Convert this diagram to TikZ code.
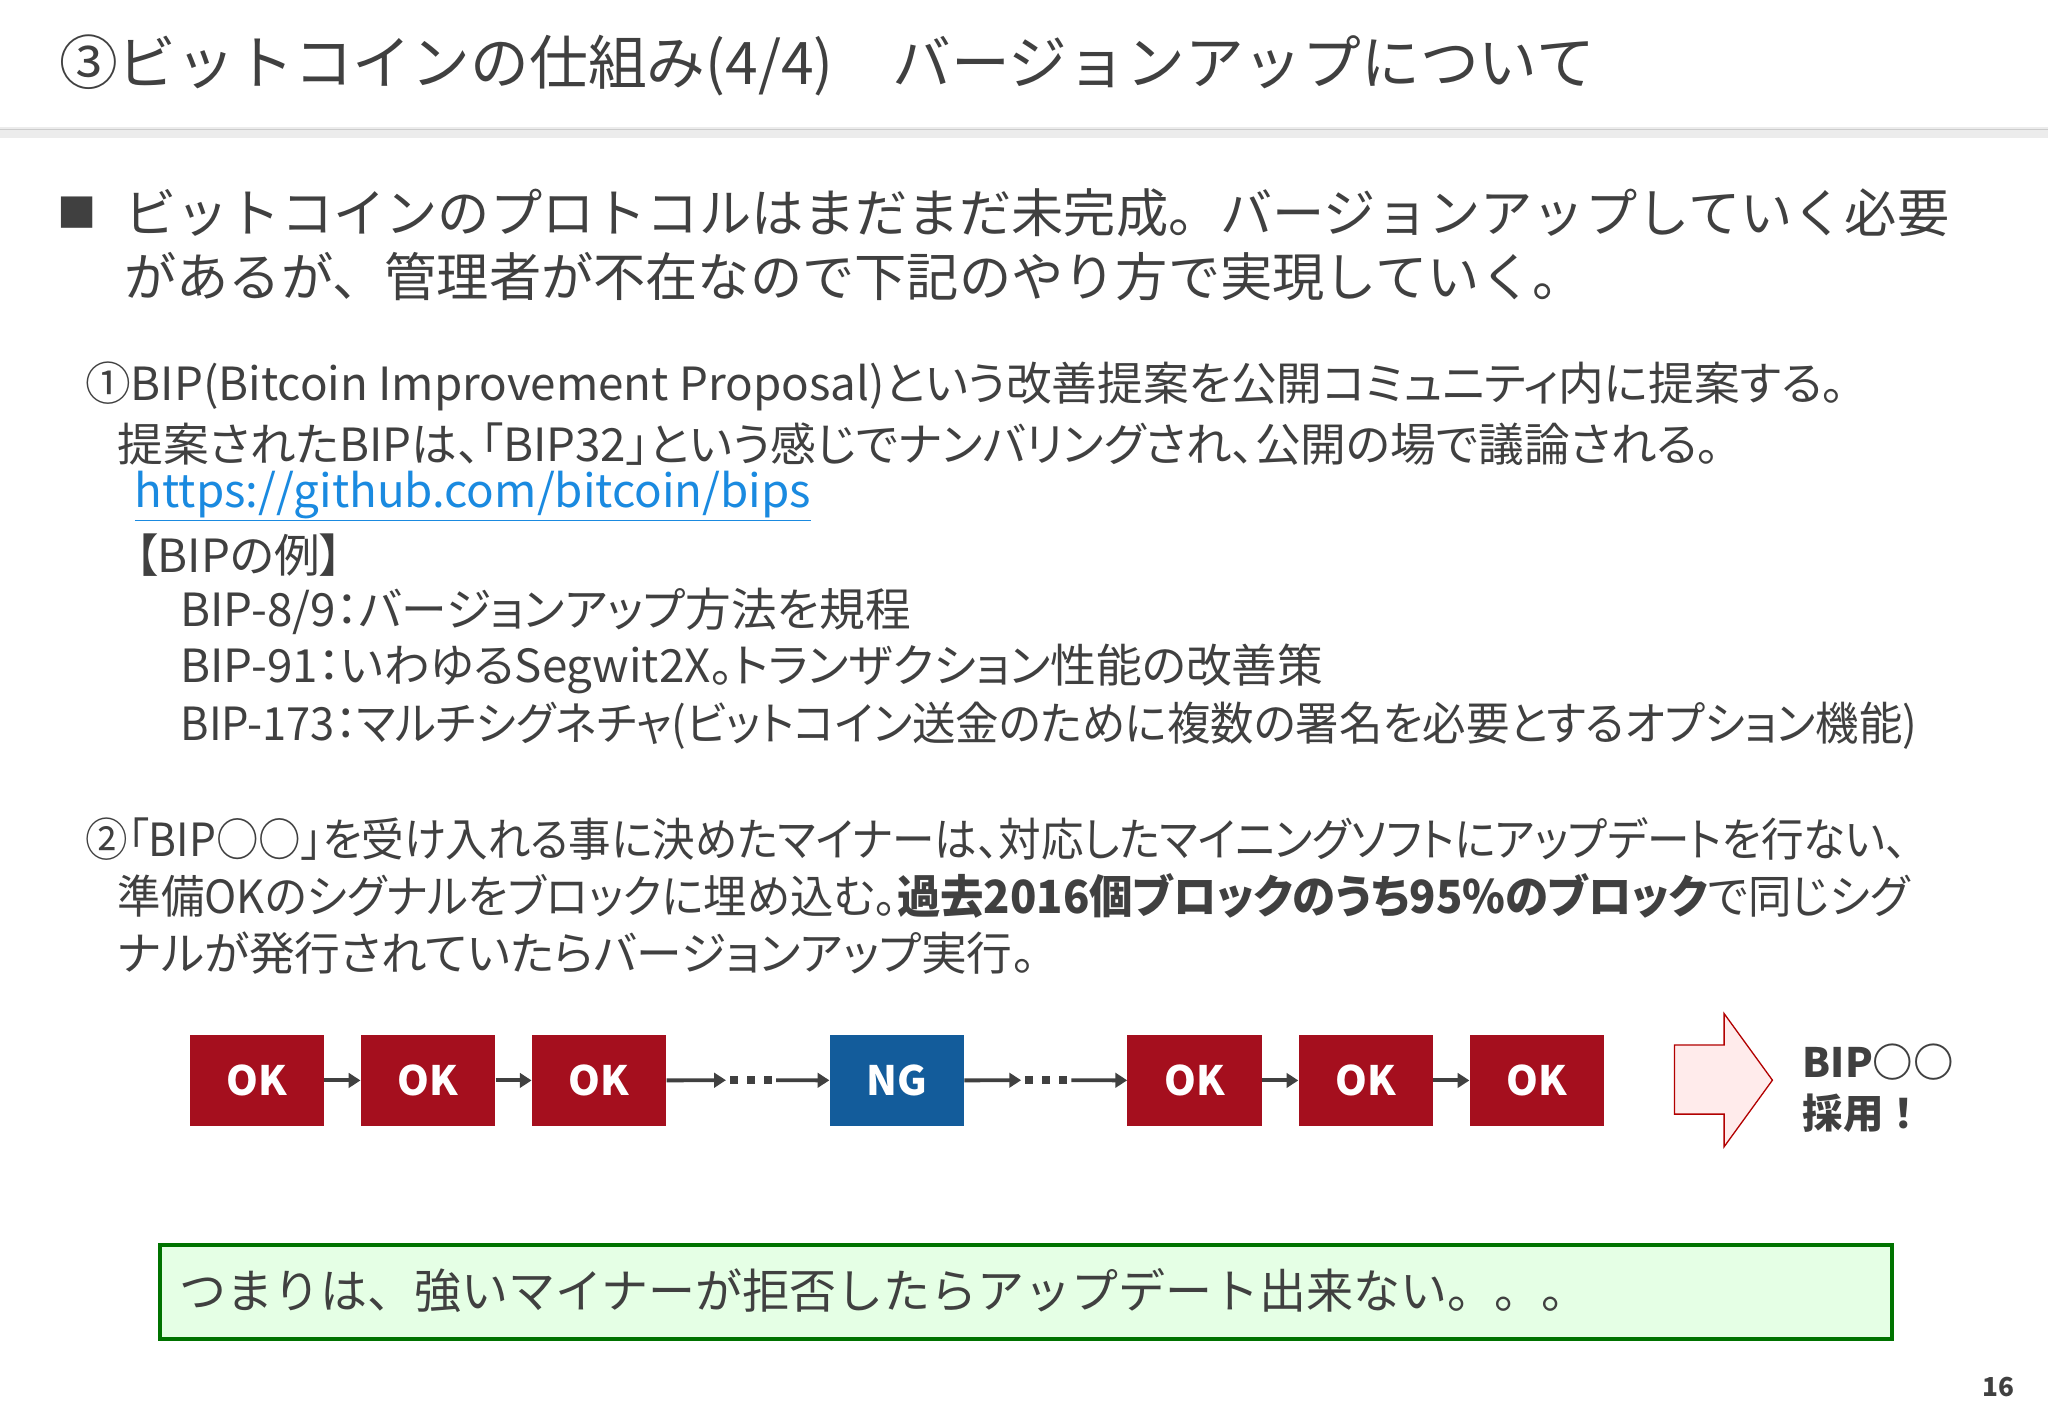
\documentclass[tikz,border=0pt]{standalone}
\usepackage{fontspec}
\usepackage{graphicx}
\setmainfont{Noto Sans CJK JP}
\usetikzlibrary{arrows.meta}
\definecolor{okred}{HTML}{A50F1E}
\definecolor{ngblue}{HTML}{135C9B}
\definecolor{txt}{HTML}{404040}
\definecolor{lnk}{HTML}{1A8AE0}
\newcommand\dotrow{\rule{6pt}{6pt}\hspace{7pt}\rule{6pt}{6pt}\hspace{7pt}\rule{6pt}{6pt}}
\tikzset{
 blk/.style={minimum width=103pt,minimum height=70pt,inner sep=0pt,text=white,font=\fontsize{31}{31}\selectfont\bfseries,anchor=north west},
 ok/.style={blk,fill=okred},
 ng/.style={blk,fill=ngblue},
 con/.style={draw=txt,line width=3pt,-{Triangle[length=9pt,width=11pt]}},
 ln/.style={anchor=west,inner sep=0pt,text=txt},
 big/.style={ln,font=\fontsize{40}{40}\selectfont},
 mid/.style={ln,font=\fontsize{35}{35}\selectfont\addfontfeatures{RawFeature=+palt}},
 dts/.style={inner sep=3pt,text=txt},
}
\begin{document}
\begin{tikzpicture}[x=1pt,y=-1pt]
\useasboundingbox (0,0) rectangle (1568,1086);
\fill[white] (0,0) rectangle (1568,1086);
\node[ln,font=\fontsize{45}{45}\selectfont] (title) at (45,50) {③ビットコインの仕組み(4/4)　バージョンアップについて};
\fill[gray!15] (0,97) rectangle (1568,106);
\draw[gray!40,line width=1pt] (0,99) -- (1568,99);
\node[ln,font=\fontsize{30}{30}\selectfont] (sq) at (44,163) {■};
\node[big] (b1) at (95,163) {ビットコインのプロトコルはまだまだ未完成。バージョンアップしていく必要};
\node[big] (b2) at (95,212) {があるが、管理者が不在なので下記のやり方で実現していく。};
\node[mid] (a1) at (65,296) {①BIP(Bitcoin Improvement Proposal)という改善提案を公開コミュニティ内に提案する。};
\node[mid] (a2) at (90,340) {提案されたBIPは、「BIP32」という感じでナンバリングされ、公開の場で議論される。};
\node[mid,text=lnk] (a3) at (103,380) {\underline{https://github.com/bitcoin/bips}};
\node[mid] (a4) at (103,425) {【BIPの例】};
\node[mid] (a5) at (138,468) {BIP-8/9：バージョンアップ方法を規程};
\node[mid] (a6) at (138,512) {BIP-91：いわゆるSegwit2X。トランザクション性能の改善策};
\node[mid] (a7) at (138,556) {\scalebox{0.95}[1]{BIP-173：マルチシグネチャ(ビットコイン送金のために複数の署名を必要とするオプション機能)}};
\node[mid] (c1) at (65,642) {\scalebox{0.93}[1]{②「BIP○○」を受け入れる事に決めたマイナーは、対応したマイニングソフトにアップデートを行ない、}};
\node[mid] (c2) at (90,686) {\scalebox{0.95}[1]{準備OKのシグナルをブロックに埋め込む。\textbf{過去2016個ブロックのうち95\%のブロック}で同じシグ}};
\node[mid] (c3) at (90,730) {ナルが発行されていたらバージョンアップ実行。};
\node[ok] (k1) at (145,792) {OK};
\node[ok] (k2) at (276,792) {OK};
\node[ok] (k3) at (407,792) {OK};
\node[ng] (n1) at (635,792) {NG};
\node[ok] (k4) at (863,792) {OK};
\node[ok] (k5) at (994,792) {OK};
\node[ok] (k6) at (1125,792) {OK};
\node[dts] (d1) at (575,827) {\dotrow};
\node[dts] (d2) at (801,827) {\dotrow};
\draw[con] (k1) -- (k2);
\draw[con] (k2) -- (k3);
\draw[con] (k3) -- (d1);
\draw[con] (d1) -- (n1);
\draw[con] (n1) -- (d2);
\draw[con] (d2) -- (k4);
\draw[con] (k4) -- (k5);
\draw[con] (k5) -- (k6);
\draw[fill=red!8,draw=red!70!black,line width=1pt] (1282,800) -- (1320,800) -- (1320,776) -- (1357,827) -- (1320,878) -- (1320,853) -- (1282,853) -- cycle;
\node[ln,font=\fontsize{31}{31}\selectfont\bfseries] (r1) at (1380,813) {BIP○○};
\node[ln,font=\fontsize{31}{31}\selectfont\bfseries] (r2) at (1380,852) {採用！};
\node[draw=green!45!black,fill=green!10,line width=3pt,minimum width=1326pt,minimum height=72pt,anchor=north west,inner sep=0pt] (g) at (121,952) {};
\node[ln,font=\fontsize{36}{36}\selectfont] (gt) at (137,988) {つまりは、強いマイナーが拒否したらアップデート出来ない。。。};
\node[inner sep=0pt,font=\fontsize{20}{20}\selectfont\bfseries,text=txt] (pg) at (1530,1062) {16};
\end{tikzpicture}
\end{document}
